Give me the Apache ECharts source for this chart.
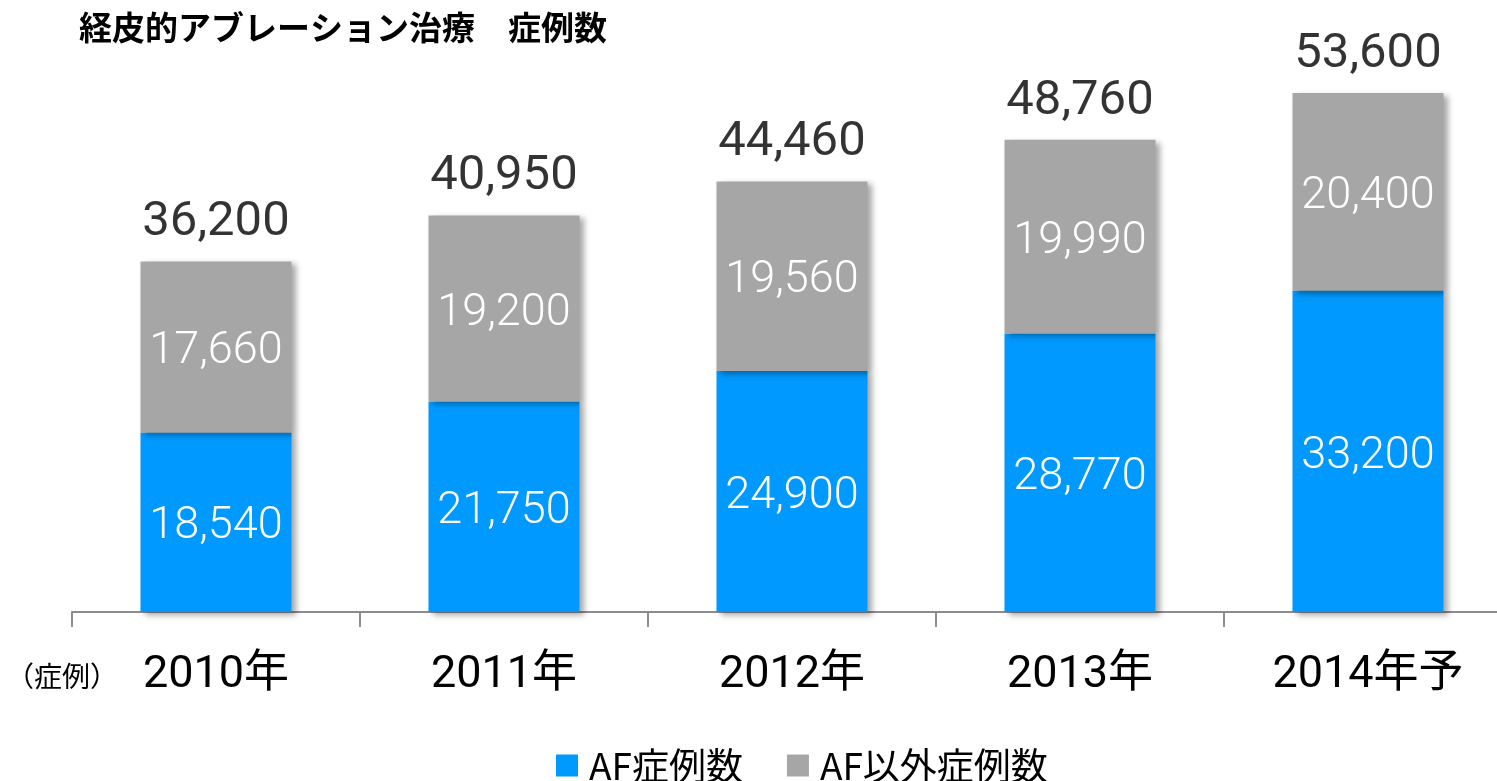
<!DOCTYPE html>
<html>
<head>
<meta charset="utf-8">
<script src="https://cdn.jsdelivr.net/npm/echarts@6/dist/echarts.min.js"></script>
<style>
html,body{margin:0;padding:0;background:#fff;overflow:hidden;}
/* a bit wider than the window so the last category slot runs off the right edge */
#chart{width:1512px;height:781px;}
</style>
</head>
<body>
<div id="chart"></div>
<script>
// data
const years = ['2010年', '2011年', '2012年', '2013年', '2014年予'];
const afCases = [18540, 21750, 24900, 28770, 33200];
const otherCases = [17660, 19200, 19560, 19990, 20400];
const totalCases = [36200, 40950, 44460, 48760, 53600];

const numFont = '"Roboto", "Noto Sans CJK JP", sans-serif';
const cjkFont = '"Noto Sans CJK JP", sans-serif';
const fmt = v => v.toLocaleString('en-US');

const shadow = {
  shadowColor: 'rgba(0,0,0,0.35)',
  shadowBlur: 6,
  shadowOffsetX: 4,
  shadowOffsetY: 3
};

let chart = echarts.init(document.getElementById('chart'));
chart.setOption({
  animation: false,
  title: {
    text: '経皮的アブレーション治療　症例数',
    left: 74,
    top: 6,
    textStyle: {fontFamily: cjkFont, fontSize: 33, fontWeight: 'bold', color: '#000'}
  },
  legend: {
    left: 551,
    top: 742,
    itemWidth: 22,
    itemHeight: 22,
    itemGap: 44,
    icon: 'rect',
    textStyle: {fontFamily: cjkFont, fontSize: 37, color: '#000', padding: [0, 0, 0, 6]},
    data: ['AF症例数', 'AF以外症例数']
  },
  graphic: [{
    type: 'text',
    left: 6,
    top: 662,
    style: {text: '（症例）', font: '28px "Noto Sans CJK JP"', fill: '#000'}
  }],
  grid: {left: 72, right: 0, top: 31, bottom: 169},
  xAxis: {
    type: 'category',
    data: years,
    axisLine: {lineStyle: {color: '#8c8c8c', width: 2}},
    axisTick: {show: true, interval: 0, length: 15, lineStyle: {color: '#8c8c8c', width: 2}},
    axisLabel: {fontFamily: numFont, fontWeight: 400, fontSize: 45, color: '#000', margin: 41}
  },
  yAxis: {type: 'value', min: 0, max: 60000, show: false},
  series: [
    {
      name: 'AF症例数',
      type: 'bar',
      stack: 'cases',
      barWidth: 151,
      data: afCases,
      itemStyle: Object.assign({color: '#0099ff'}, shadow),
      label: {show: true, position: 'inside', offset: [0, 5], color: '#fff', fontFamily: numFont, fontWeight: 300, fontSize: 45,
        formatter: p => fmt(p.value)}
    },
    {
      name: 'AF以外症例数',
      type: 'bar',
      stack: 'cases',
      barWidth: 151,
      data: otherCases,
      itemStyle: Object.assign({color: '#a6a6a6'}, shadow),
      label: {show: true, position: 'inside', offset: [0, 5], color: '#fff', fontFamily: numFont, fontWeight: 300, fontSize: 45,
        formatter: p => fmt(p.value)}
    },
    {
      name: 'total',
      type: 'scatter',
      data: totalCases,
      symbolSize: 0,
      silent: true,
      label: {show: true, position: 'top', distance: 14, color: '#000', fontFamily: numFont, fontWeight: 400, fontSize: 49,
        formatter: p => fmt(p.value)}
    }
  ]
});
</script>
</body>
</html>
